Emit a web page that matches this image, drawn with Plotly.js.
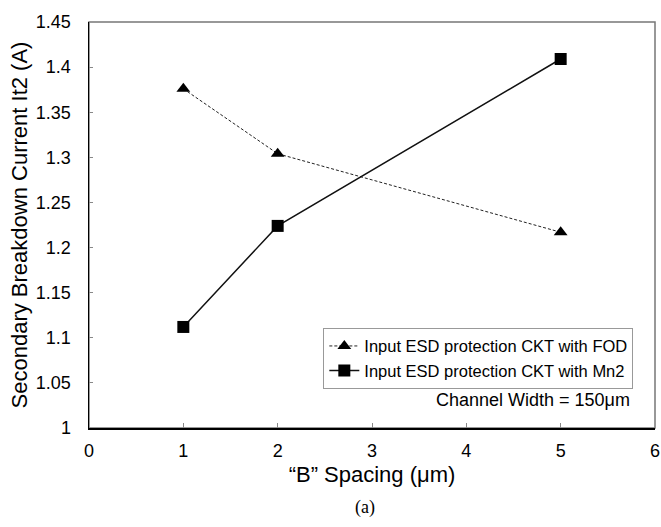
<!DOCTYPE html>
<html>
<head>
<meta charset="utf-8">
<script src="https://cdn.plot.ly/plotly-3.0.1.min.js"></script>
<style>html,body{margin:0;padding:0;background:#fff;}#chart{width:661px;height:527px;}</style>
</head>
<body>
<div id="chart"></div>
<script>
const spacing = [1, 2, 5];
const it2FOD = [1.376, 1.304, 1.217];
const it2Mn2 = [1.112, 1.224, 1.409];
const seriesNames = ["Input ESD protection CKT with FOD", "Input ESD protection CKT with Mn2"];
const xTicks = [0, 1, 2, 3, 4, 5, 6];
const yTicks = [1, 1.05, 1.1, 1.15, 1.2, 1.25, 1.3, 1.35, 1.4, 1.45];
const yTickText = ["1", "1.05", "1.1", "1.15", "1.2", "1.25", "1.3", "1.35", "1.4", "1.45"];

const font = "Liberation Sans, Arial, sans-serif";

const traces = [
  {
    x: spacing, y: it2FOD, name: seriesNames[0], type: "scatter", mode: "lines+markers",
    line: {color: "#222", width: 1, dash: "3px,2px"},
    marker: {symbol: "triangle-up", size: 12, color: "#000"}
  },
  {
    x: spacing, y: it2Mn2, name: seriesNames[1], type: "scatter", mode: "lines+markers",
    line: {color: "#111", width: 1.5},
    marker: {symbol: "square", size: 12, color: "#000"}
  }
];

const layout = {
  width: 661, height: 527,
  margin: {l: 89, r: 6, t: 22, b: 99},
  paper_bgcolor: "#fff", plot_bgcolor: "#fff",
  font: {family: font, color: "#000", size: 18},
  showlegend: true,
  legend: {
    x: 0.414, y: 0.247, xanchor: "left", yanchor: "top",
    bgcolor: "#fff", bordercolor: "#999", borderwidth: 1,
    font: {family: font, size: 16.5, color: "#000"},
    tracegroupgap: 0
  },
  xaxis: {
    range: [0, 6], tickvals: xTicks, ticktext: xTicks.map(String),
    showgrid: false, zeroline: false,
    showline: true, linecolor: "#000", linewidth: 1.5,
    ticks: "inside", ticklen: 5, tickcolor: "#888", tickwidth: 1,
    ticklabelstandoff: 6,
    tickfont: {family: font, size: 18},
    title: {text: "\u201CB\u201D Spacing (\u03BCm)", font: {family: font, size: 22}, standoff: 6}
  },
  yaxis: {
    range: [1, 1.45], tickvals: yTicks, ticktext: yTickText,
    showgrid: false, zeroline: false,
    showline: true, linecolor: "#000", linewidth: 1.5,
    ticks: "inside", ticklen: 4, tickcolor: "#888", tickwidth: 1,
    ticklabelstandoff: 13,
    tickfont: {family: font, size: 18},
    title: {text: "Secondary Breakdown Current It2 (A)", font: {family: font, size: 22}, standoff: 2}
  },
  shapes: [
    {type: "rect", xref: "paper", yref: "paper", x0: 0, x1: 1, y0: 0, y1: 1,
     line: {color: "#777", width: 1.5}, layer: "below"}
  ],
  annotations: [
    {xref: "paper", yref: "paper", x: 0.96, y: 0.07, xanchor: "right", yanchor: "middle",
     text: "Channel Width = 150\u03BCm", showarrow: false,
     font: {family: font, size: 18, color: "#000"}},
    {xref: "paper", yref: "paper", x: 0.488, y: -0.195, xanchor: "center", yanchor: "middle",
     text: "(a)", showarrow: false,
     font: {family: "Liberation Serif, Times New Roman, serif", size: 18, color: "#000"}}
  ]
};

Plotly.newPlot("chart", traces, layout, {displayModeBar: false, staticPlot: true});
</script>
</body>
</html>
